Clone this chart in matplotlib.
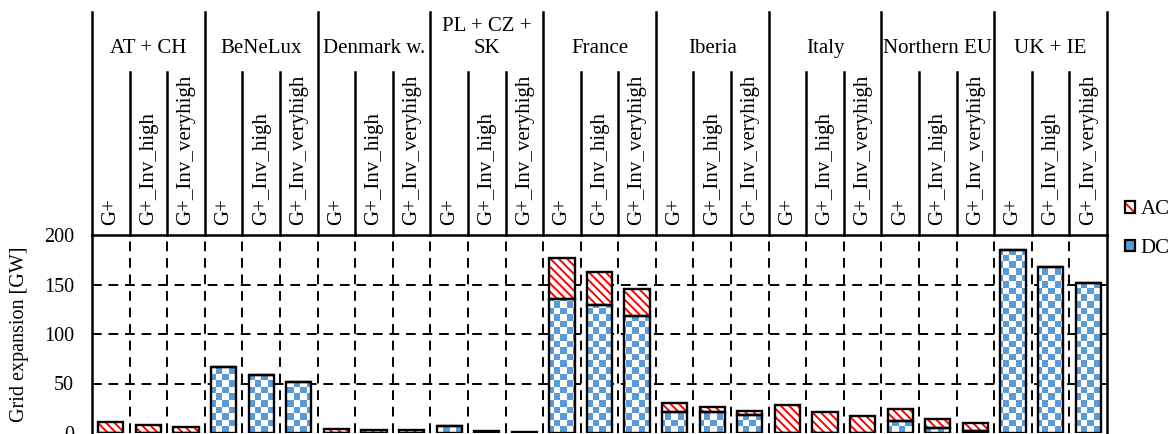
import numpy as np
import matplotlib
matplotlib.use("Agg")
import matplotlib.pyplot as plt
from matplotlib.colors import ListedColormap
from matplotlib.path import Path
from matplotlib.patches import Patch
from matplotlib.legend_handler import HandlerTuple

plt.rcParams['font.family'] = ['Liberation Serif', 'DejaVu Serif']
plt.rcParams['hatch.linewidth'] = 1.4

groups = ['AT + CH', 'BeNeLux', 'Denmark w.', 'PL + CZ +\nSK', 'France',
          'Iberia', 'Italy', 'Northern EU', 'UK + IE']
scenarios = ['G+', 'G+_Inv_high', 'G+_Inv_veryhigh']

# GW, one value per group x scenario
dc = [0, 0, 0,   67, 58.5, 51.5,   0, 0, 0,   7.3, 0, 0,
      135, 129, 118,   21.5, 21, 18,   0, 0, 0,   12.5, 5, 2.5,
      185, 168, 151.5]
ac = [11.5, 8, 6.5,   0, 0, 0,   3.7, 3, 3,   0, 2, 1.5,
      42, 34, 27,   8.5, 5.5, 4,   28, 21.5, 17.5,   11.5, 9, 8,
      0, 0, 0]

blue = '#5B9BD5'
red = '#FF0000'

W, H = 1175, 434
fig = plt.figure(figsize=(W / 100, H / 100), dpi=100)

x0, x1 = 92, 1107
ytop, ybot = 235, 433
ax = fig.add_axes([x0 / W, (H - ybot) / H, (x1 - x0) / W, (ybot - ytop) / H])
hx = fig.add_axes([x0 / W, (H - ytop) / H, (x1 - x0) / W, (ytop - 12) / H])

n = len(dc)
xs = np.arange(n) + 0.5
dc = np.array(dc, float)
ac = np.array(ac, float)
bw = 0.67

# DC bars (checkerboard texture clipped to the bars)
dcbars = ax.bar(xs, dc, bw, facecolor='none', edgecolor='black', linewidth=1.7, zorder=4)
paths = [b.get_path().transformed(b.get_patch_transform()) for b in dcbars if b.get_height() > 0]
cells = np.indices((30, 156)).sum(axis=0) % 2
im = ax.imshow(cells, cmap=ListedColormap(['white', blue]), extent=(0, n, 0, 200),
               origin='upper', aspect='auto', interpolation='nearest', zorder=3)
im.set_clip_path(Path.make_compound_path(*paths), ax.transData)

# AC bars: red hatch, then black outline
ax.bar(xs, ac, bw, bottom=dc, facecolor='white', edgecolor=red, linewidth=0,
       hatch='\\\\\\\\', zorder=3)
ax.bar(xs, ac, bw, bottom=dc, facecolor='none', edgecolor='black', linewidth=1.7, zorder=4)

ax.set_xlim(0, n)
ax.set_ylim(0, 200)
ax.set_yticks([0, 50, 100, 150, 200])
ax.tick_params(axis='y', labelsize=14.5, length=0, pad=13)
ax.set_xticks([])
ax.set_ylabel('Grid expansion [GW]', fontsize=14.5, labelpad=11)
for y in [50, 100, 150]:
    ax.axhline(y, color='black', lw=1.4, ls=(0, (5, 3.5)), zorder=1)
for x in range(1, n):
    ax.axvline(x, color='black', lw=1.4, ls=(0, (5, 3.5)), zorder=1)
for s in ['left', 'right', 'top']:
    ax.spines[s].set_linewidth(1.8)
ax.spines['bottom'].set_visible(False)

# header with group and scenario labels
hx.set_xlim(0, n)
hx.set_ylim(0, 1)
hx.axis('off')
sub_top = (ytop - 72) / (ytop - 12)
for x in range(0, n + 1):
    if x % 3 == 0:
        hx.plot([x, x], [0, 1], color='black', lw=1.8, clip_on=False)
    else:
        hx.plot([x, x], [0, sub_top], color='black', lw=1.8, clip_on=False)
for i in range(n):
    hx.text(xs[i], 10 / (ytop - 12), scenarios[i % 3], rotation=90,
            ha='center', va='bottom', fontsize=15)
for g, name in enumerate(groups):
    hx.text(3 * g + 1.5, (ytop - 58) / (ytop - 12), name, ha='center', va='bottom',
            fontsize=15, linespacing=1.2)

ac_h = (Patch(facecolor='white', edgecolor=red, hatch='\\\\\\', linewidth=0),
        Patch(facecolor='none', edgecolor='black', linewidth=1.6))
dc_h = Patch(facecolor=blue, edgecolor='black', linewidth=1.6)
fig.legend(handles=[ac_h, dc_h], labels=['AC', 'DC'],
           handler_map={tuple: HandlerTuple(ndivide=1)},
           loc='center left', bbox_to_anchor=(1125 / W, 1 - 229 / H),
           frameon=False, fontsize=15, handlelength=0.5, handleheight=0.5,
           handletextpad=0.25, labelspacing=0.95, borderpad=0, borderaxespad=0)

fig.savefig('out.png', dpi=100)
